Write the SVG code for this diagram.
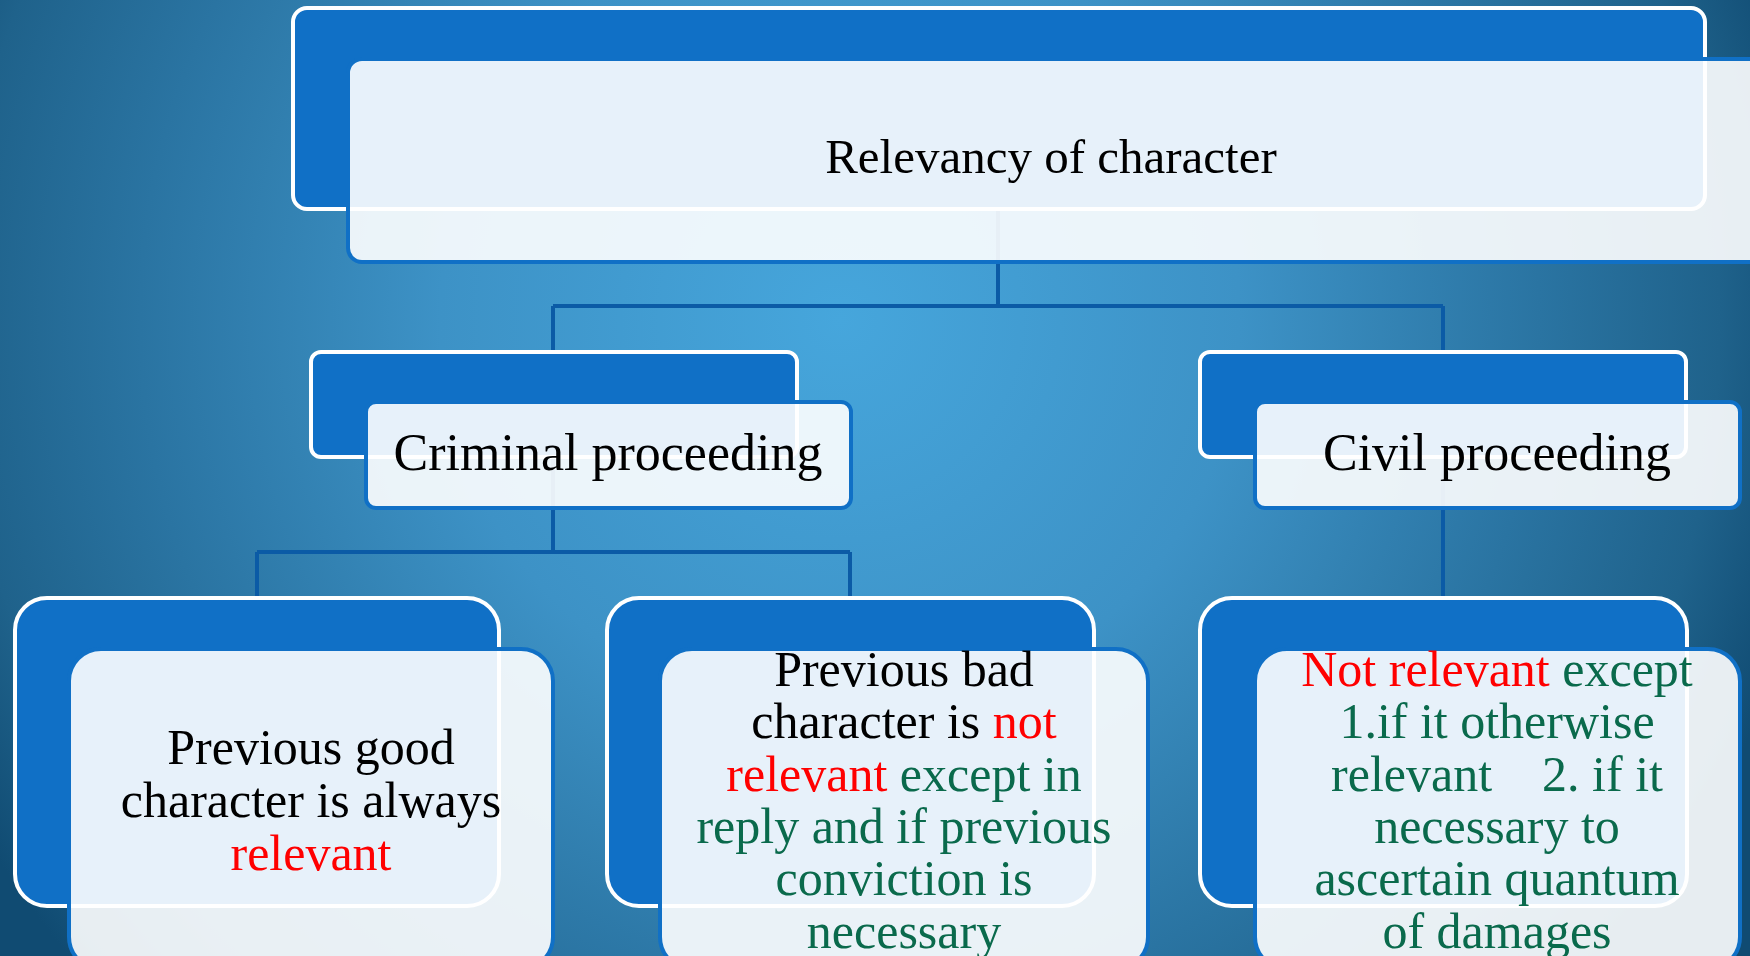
<svg xmlns="http://www.w3.org/2000/svg" width="1750" height="956" viewBox="0 0 1750 956">
<defs>
<radialGradient id="bg" gradientUnits="userSpaceOnUse" cx="840" cy="320" r="1000">
<stop offset="0" stop-color="#46a6dc"/>
<stop offset="0.4" stop-color="#3d92c6"/>
<stop offset="0.7" stop-color="#2a74a2"/>
<stop offset="0.88" stop-color="#1f628b"/>
<stop offset="1" stop-color="#104b72"/>
</radialGradient>
<style>
.back{fill:#1070c6;stroke:#ffffff;stroke-width:4}
.front{fill:#ffffff;fill-opacity:0.9;stroke:#1070c6;stroke-width:4}
.conn{fill:none;stroke:#0b5ba6;stroke-width:4}
text{font-family:"Liberation Serif","Times New Roman",serif;text-anchor:middle;fill:#000000}
.t1{font-size:49px}
.t2{font-size:52px}
.t3{font-size:50px}
.red{fill:#ff0000}
.grn{fill:#0a6a4c}
</style>
</defs>
<rect x="0" y="0" width="1750" height="956" fill="url(#bg)"/>
<g id="connectors">
<path class="conn" d="M998,120 V306 M553,306 H1443 M553,306 V552 M1443,306 V620 M257,552 H850 M257,552 V620 M850,552 V620"/>
</g>
<g id="root">
<rect class="back" x="293" y="8" width="1412" height="201" rx="14"/>
<rect class="front" x="348" y="59" width="1420" height="203" rx="14"/>
<text class="t1" x="1051" y="173">Relevancy of character</text>
</g>
<g id="criminal">
<rect class="back" x="311" y="352" width="486" height="105" rx="10"/>
<rect class="front" x="366" y="402" width="485" height="106" rx="10"/>
<text class="t2" x="608" y="470">Criminal proceeding</text>
</g>
<g id="civil">
<rect class="back" x="1200" y="352" width="486" height="105" rx="10"/>
<rect class="front" x="1255" y="402" width="485" height="106" rx="10"/>
<text class="t2" x="1497" y="470">Civil proceeding</text>
</g>
<g id="good">
<rect class="back" x="15" y="598" width="484" height="308" rx="32"/>
<rect class="front" x="69" y="649" width="484" height="320" rx="32"/>
<text class="t3" x="311" y="764">Previous good</text>
<text class="t3" x="311" y="817">character is always</text>
<text class="t3 red" x="311" y="870">relevant</text>
</g>
<g id="bad">
<rect class="back" x="607" y="598" width="487" height="308" rx="32"/>
<rect class="front" x="660" y="649" width="488" height="320" rx="32"/>
<text class="t3" x="904" y="686">Previous bad</text>
<text class="t3" x="904" y="738">character is <tspan class="red">not</tspan></text>
<text class="t3" x="904" y="791"><tspan class="red">relevant</tspan><tspan class="grn"> except in</tspan></text>
<text class="t3 grn" x="904" y="843">reply and if previous</text>
<text class="t3 grn" x="904" y="895">conviction is</text>
<text class="t3 grn" x="904" y="948">necessary</text>
</g>
<g id="civilrule">
<rect class="back" x="1200" y="598" width="487" height="308" rx="32"/>
<rect class="front" x="1255" y="649" width="485" height="320" rx="32"/>
<text class="t3" x="1497" y="686"><tspan class="red">Not relevant</tspan><tspan class="grn"> except</tspan></text>
<text class="t3 grn" x="1497" y="738">1.if it otherwise</text>
<text class="t3 grn" x="1497" y="791" style="white-space:pre">relevant    2. if it</text>
<text class="t3 grn" x="1497" y="843">necessary to</text>
<text class="t3 grn" x="1497" y="895">ascertain quantum</text>
<text class="t3 grn" x="1497" y="948">of damages</text>
</g>
</svg>
